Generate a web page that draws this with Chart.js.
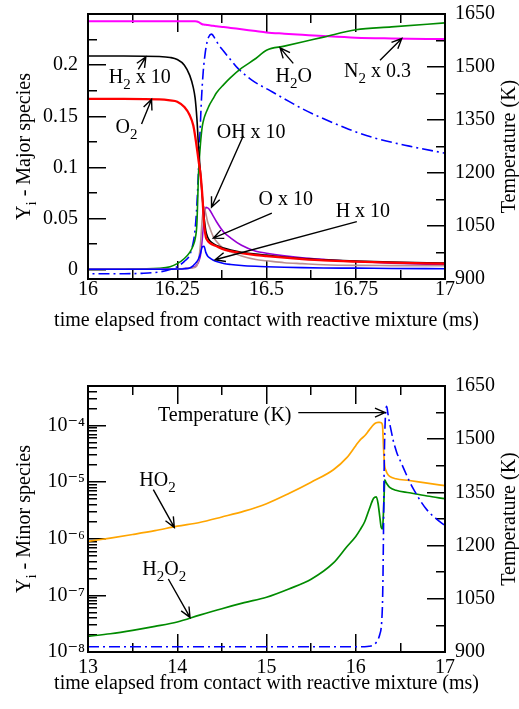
<!DOCTYPE html>
<html>
<head>
<meta charset="utf-8">
<script src="https://cdn.jsdelivr.net/npm/chart.js@4.4.1/dist/chart.umd.min.js"></script>
<style>
  html, body { margin: 0; padding: 0; background: #fff; }
  #wrap { position: relative; width: 519px; height: 709px; }
  #c1 { position: absolute; left: 0; top: 0; }
  #c2 { position: absolute; left: 0; top: 350px; }
</style>
</head>
<body>
<div id="wrap">
  <canvas id="c1" width="519" height="350"></canvas>
  <canvas id="c2" width="519" height="359"></canvas>
</div>
<script>
/**
 * top panel - major species (mass fractions), time in ms
 */
var tTop  = [16, 16.1, 16.2, 16.23, 16.25, 16.27, 16.285, 16.295, 16.3, 16.305, 16.31, 16.315, 16.32, 16.325, 16.33, 16.335, 16.34, 16.35, 16.36, 16.38, 16.4, 16.43, 16.47, 16.5, 16.55, 16.6, 16.66, 16.75, 16.85, 17];
var h2x10 = [0.209, 0.209, 0.2085, 0.2075, 0.2055, 0.2, 0.19, 0.178, 0.168, 0.148, 0.118, 0.095, 0.072, 0.052, 0.038, 0.032, 0.0288, 0.0258, 0.0238, 0.0212, 0.0192, 0.0172, 0.0153, 0.0143, 0.0125, 0.011, 0.0098, 0.0085, 0.0075, 0.0066];
var o2    = [0.167, 0.167, 0.1665, 0.1655, 0.1643, 0.159, 0.151, 0.141, 0.131, 0.119, 0.106, 0.094, 0.074, 0.046, 0.032, 0.0285, 0.0265, 0.0245, 0.023, 0.02, 0.0183, 0.0163, 0.0143, 0.0133, 0.0118, 0.0105, 0.0092, 0.008, 0.007, 0.006];
var h2o   = [0.0005, 0.0006, 0.0015, 0.003, 0.006, 0.011, 0.017, 0.024, 0.03, 0.045, 0.097, 0.123, 0.14, 0.148, 0.153, 0.157, 0.161, 0.167, 0.173, 0.181, 0.188, 0.197, 0.2065, 0.2146, 0.2186, 0.2226, 0.2274, 0.2346, 0.2374, 0.2413];
var n2x03 = [0.243, 0.243, 0.243, 0.243, 0.243, 0.243, 0.243, 0.243, 0.243, 0.2427, 0.242, 0.241, 0.24, 0.2397, 0.2394, 0.2392, 0.239, 0.2386, 0.2381, 0.2373, 0.2364, 0.2351, 0.2333, 0.232, 0.2308, 0.2297, 0.2284, 0.2268, 0.2261, 0.2255];
var ohx10 = [0.0005, 0.0005, 0.0006, 0.0007, 0.0009, 0.0012, 0.0018, 0.0025, 0.003, 0.005, 0.008, 0.014, 0.03, 0.05, 0.061, 0.0605, 0.059, 0.053, 0.047, 0.037, 0.031, 0.024, 0.0182, 0.0162, 0.0137, 0.0118, 0.0102, 0.0081, 0.0065, 0.0049];
var ox10  = [0.0005, 0.0005, 0.0006, 0.0007, 0.0009, 0.0012, 0.0016, 0.002, 0.0025, 0.004, 0.01, 0.025, 0.05, 0.0615, 0.055, 0.047, 0.042, 0.033, 0.0276, 0.0208, 0.0175, 0.0135, 0.01, 0.0088, 0.0069, 0.006, 0.005, 0.0043, 0.0041, 0.0039];
var hx10  = [0.0005, 0.0005, 0.0005, 0.0006, 0.0007, 0.001, 0.0018, 0.004, 0.006, 0.008, 0.011, 0.016, 0.0225, 0.023, 0.017, 0.0135, 0.0118, 0.0095, 0.0081, 0.0062, 0.0052, 0.0042, 0.0034, 0.003, 0.0025, 0.0021, 0.0018, 0.0016, 0.0013, 0.001];

// temperature (K), shared by both panels
var tempTime = [13, 14, 15, 15.5, 16, 16.1, 16.15, 16.2, 16.23, 16.25, 16.27, 16.285, 16.295, 16.3, 16.305, 16.309, 16.314, 16.318, 16.323, 16.328, 16.333, 16.338, 16.346, 16.356, 16.366, 16.379, 16.4, 16.42, 16.44, 16.46, 16.51, 16.55, 16.6, 16.65, 16.73, 16.8, 16.9, 17];
var tempK    = [915, 915, 915, 915, 915, 915, 916, 920, 927, 935, 950, 968, 1005, 1040, 1110, 1195, 1320, 1412, 1490, 1537, 1568, 1585, 1593, 1580, 1563, 1546, 1520, 1496, 1478, 1462, 1433, 1410, 1382, 1358, 1324, 1300, 1276, 1256];

/**
 * bottom panel - minor species
 */
var tBot = [13, 13.25, 13.5, 13.75, 14, 14.25, 14.5, 14.75, 15, 15.25, 15.5, 15.75, 15.9, 16, 16.05, 16.1, 16.15, 16.2, 16.23, 16.25, 16.27, 16.285, 16.3, 16.31, 16.318, 16.325, 16.335, 16.35, 16.38, 16.45, 16.6, 16.8, 17];
var ho2  = [9.0e-7, 1.03e-6, 1.19e-6, 1.39e-6, 1.67e-6, 1.94e-6, 2.43e-6, 3.08e-6, 4.17e-6, 6.31e-6, 1.0e-5, 1.66e-5, 2.71e-5, 4.42e-5, 5.6e-5, 6.6e-5, 8.3e-5, 1.04e-4, 1.12e-4, 1.14e-4, 1.14e-4, 1.12e-4, 1.0e-4, 4.5e-5, 2.5e-5, 1.9e-5, 1.65e-5, 1.45e-5, 1.27e-5, 1.15e-5, 1.07e-5, 9.6e-6, 8.7e-6];
var h2o2 = [1.89e-8, 2.1e-8, 2.41e-8, 2.83e-8, 3.39e-8, 4.47e-8, 5.82e-8, 7.43e-8, 9.29e-8, 1.3e-7, 1.93e-7, 3.75e-7, 7.24e-7, 1.1e-6, 1.45e-6, 2.0e-6, 3.3e-6, 5.2e-6, 5.5e-6, 4.2e-6, 2.4e-6, 1.6e-6, 1.5e-6, 2.8e-6, 6e-6, 1.1e-5, 1.02e-5, 9.3e-6, 8.1e-6, 7.2e-6, 6.5e-6, 5.7e-6, 5.1e-6];

// tick values
var xMajorTop = [16, 16.25, 16.5, 16.75, 17];
var xMinorTop = [16.125, 16.375, 16.625, 16.875];
var yMajorTop = [0, 0.05, 0.1, 0.15, 0.2];
var yMinorTop = [0.025, 0.075, 0.125, 0.175, 0.225];
var xMajorBot = [13, 14, 15, 16, 17];
var xMinorBot = [13.5, 14.5, 15.5, 16.5];
var yMajorBot = [1e-8, 1e-7, 1e-6, 1e-5, 1e-4];
var tempMajor = [900, 1050, 1200, 1350, 1500, 1650];
var tempMinor = [975, 1125, 1275, 1425, 1575];

var FAMILY = "'Liberation Serif', 'DejaVu Serif', serif";
var tickFont = { family: FAMILY, size: 20 };
var xTitle = 'time elapsed from contact with reactive mixture (ms)';

Chart.defaults.color = '#000';

function pts(xs, ys) {
    return xs.map(function (x, i) { return { x: x, y: ys[i] }; });
}

// minor ticks of the log axis: 2..9 x 10^n up to the axis max
function logMinors(lo, hi, max) {
    var out = [];
    for (var e = lo; e <= hi; e++)
        for (var m = 2; m <= 9; m++)
            if (m * Math.pow(10, e) <= max) out.push(m * Math.pow(10, e));
    return out;
}

function supNum(v) {
    var sup = { '-': '\u207B', '0': '\u2070', '1': '\u00B9', '2': '\u00B2', '3': '\u00B3', '4': '\u2074', '5': '\u2075', '6': '\u2076', '7': '\u2077', '8': '\u2078', '9': '\u2079' };
    var e = String(Math.round(Math.log10(v)));
    return '10' + e.split('').map(function (c) { return sup[c]; }).join('');
}

/**
 * text with subscripts: "H_2O" -> H, 2 (lowered), O
 */
function drawRich(ctx, str, x, y) {
    var parts = [], buf = '';
    for (var i = 0; i < str.length; i++) {
        if (str[i] === '_') {
            if (buf) parts.push({ t: buf });
            buf = '';
            parts.push({ t: str[i + 1], sub: true });
            i++;
        } else buf += str[i];
    }
    if (buf) parts.push({ t: buf });
    var w = 0;
    parts.forEach(function (p) {
        ctx.font = (p.sub ? '15px ' : '20px ') + FAMILY;
        p.w = ctx.measureText(p.t).width;
        w += p.w;
    });
    var cx = x - w / 2;
    ctx.textAlign = 'left';
    ctx.textBaseline = 'alphabetic';
    parts.forEach(function (p) {
        ctx.font = (p.sub ? '15px ' : '20px ') + FAMILY;
        ctx.fillText(p.t, cx, y + (p.sub ? 6 : 0));
        cx += p.w;
    });
}

/**
 * labels + arrows, frame, axis titles
 */
function makeDeco(cfg) {
    return {
        id: 'deco',
        afterDraw: function (chart) {
            var ctx = chart.ctx, s = chart.scales, a = chart.chartArea;
            ctx.save();
            ctx.fillStyle = '#000';
            ctx.strokeStyle = '#000';
            ctx.lineWidth = 1.4;

            cfg.notes.forEach(function (n) {
                var ys = s[n.axis || 'y'];
                drawRich(ctx, n.text, s.x.getPixelForValue(n.x), ys.getPixelForValue(n.y));
                var x1 = s.x.getPixelForValue(n.from[0]), y1 = ys.getPixelForValue(n.from[1]);
                var x2 = s.x.getPixelForValue(n.to[0]), y2 = ys.getPixelForValue(n.to[1]);
                var ang = Math.atan2(y2 - y1, x2 - x1), L = 11, sp = 0.42;
                ctx.beginPath();
                ctx.moveTo(x1, y1); ctx.lineTo(x2, y2);
                ctx.moveTo(x2 - L * Math.cos(ang - sp), y2 - L * Math.sin(ang - sp));
                ctx.lineTo(x2, y2);
                ctx.lineTo(x2 - L * Math.cos(ang + sp), y2 - L * Math.sin(ang + sp));
                ctx.stroke();
            });

            ctx.lineWidth = 2;
            ctx.strokeRect(a.left, a.top, a.right - a.left, a.bottom - a.top);

            drawRich(ctx, xTitle, (a.left + a.right) / 2, a.bottom + cfg.titleDrop);
            var mid = (a.top + a.bottom) / 2;
            ctx.save();
            ctx.translate(29.5, mid); ctx.rotate(-Math.PI / 2);
            drawRich(ctx, cfg.yTitle, 0, 0);
            ctx.restore();
            ctx.save();
            ctx.translate(515, mid); ctx.rotate(-Math.PI / 2);
            drawRich(ctx, 'Temperature (K)', 0, 0);
            ctx.restore();
            ctx.restore();
        }
    };
}

function line(label, xs, ys, color, width, axis, dash) {
    return {
        label: label,
        data: pts(xs, ys),
        yAxisID: axis || 'y',
        borderColor: color,
        backgroundColor: color,
        borderWidth: width,
        borderDash: dash || [],
        pointRadius: 0,
        fill: false,
        cubicInterpolationMode: 'monotone'
    };
}

function ticksFrom(vals) {
    return function (scale) { scale.ticks = vals.map(function (v) { return { value: v }; }); };
}
// fixed box sizes so the plot area lands where the original one is
function fitW(w) {
    return function (s) { s.width = w; s.paddingTop = 0; s.paddingBottom = 0; };
}
function fitH(h) {
    return function (s) { s.height = h; s.paddingLeft = 0; s.paddingRight = 0; };
}
// negative tick length -> the library draws the tick marks inwards
function tickGrid(len) {
    return { display: true, drawOnChartArea: false, drawTicks: true, tickLength: -len, color: '#000', lineWidth: 1.5 };
}

// labelled axis
function mainAxis(pos, type, min, max, vals, size, pad, fmt) {
    var horiz = pos === 'top' || pos === 'bottom';
    return {
        type: type, position: pos, min: min, max: max, weight: 1,
        afterBuildTicks: ticksFrom(vals),
        afterFit: horiz ? fitH(size) : fitW(size),
        grid: tickGrid(18),
        border: { display: false },
        ticks: { font: tickFont, padding: pad + 18, maxRotation: 0, autoSkip: false, callback: fmt || function (v) { return String(v); } }
    };
}
// zero-size axis that only adds tick marks (minor ticks, top edge)
function tickAxis(pos, type, min, max, vals, len) {
    var horiz = pos === 'top' || pos === 'bottom';
    return {
        type: type, position: pos, min: min, max: max, weight: 0,
        afterBuildTicks: ticksFrom(vals),
        afterFit: horiz ? fitH(0) : fitW(0),
        grid: tickGrid(len),
        border: { display: false },
        ticks: { font: tickFont, padding: 0, maxRotation: 0, autoSkip: false, callback: function () { return ''; } }
    };
}

var tempDash = [11, 4, 2, 4];

/**
 * top chart
 */
new Chart(document.getElementById('c1'), {
    type: 'line',
    data: {
        datasets: [
            line('O2', tTop, o2, '#ff0000', 2.3),
            line('H2 x 10', tTop, h2x10, '#000000', 1.6),
            line('H x 10', tTop, hx10, '#0000ff', 1.6),
            line('O x 10', tTop, ox10, '#bc8f8f', 1.6),
            line('OH x 10', tTop, ohx10, '#9400d3', 1.6),
            line('H2O', tTop, h2o, '#008b00', 1.6),
            line('N2 x 0.3', tTop, n2x03, '#ff00ff', 2),
            line('Temperature', tempTime, tempK, '#0000ff', 1.6, 'y2', tempDash)
        ]
    },
    options: {
        responsive: false,
        animation: false,
        devicePixelRatio: 1,
        layout: { padding: { top: 14, left: 0, right: 0, bottom: 0 } },
        plugins: { legend: { display: false }, tooltip: { enabled: false } },
        scales: {
            x:   mainAxis('bottom', 'linear', 16, 17, xMajorTop, 71, -1),
            y:   mainAxis('left', 'linear', -0.009, 0.25, yMajorTop, 88, 10),
            y2:  mainAxis('right', 'linear', 900, 1650, tempMajor, 74, 10),
            xm:  tickAxis('bottom', 'linear', 16, 17, xMinorTop, 9),
            xt:  tickAxis('top', 'linear', 16, 17, xMajorTop, 18),
            xtm: tickAxis('top', 'linear', 16, 17, xMinorTop, 9),
            ym:  tickAxis('left', 'linear', -0.009, 0.25, yMinorTop, 9),
            y2m: tickAxis('right', 'linear', 900, 1650, tempMinor, 9)
        }
    },
    plugins: [
        makeDeco({
            yTitle: 'Y_i - Major species', titleDrop: 47,
            notes: [
                { text: 'H_2 x 10', x: 16.145, y: 0.1821, from: [16.141, 0.1958], to: [16.162, 0.2081] },
                { text: 'O_2', x: 16.108, y: 0.1334, from: [16.150, 0.1424], to: [16.178, 0.1665] },
                { text: 'OH x 10', x: 16.457, y: 0.1285, from: [16.435, 0.131], to: [16.346, 0.0612] },
                { text: 'O x 10', x: 16.554, y: 0.0634, from: [16.515, 0.0553], to: [16.351, 0.0309] },
                { text: 'H x 10', x: 16.770, y: 0.052, from: [16.753, 0.0471], to: [16.356, 0.0098] },
                { text: 'H_2O', x: 16.576, y: 0.1837, from: [16.575, 0.2017], to: [16.538, 0.2169] },
                { text: 'N_2 x 0.3', x: 16.811, y: 0.1886, from: [16.818, 0.2049], to: [16.879, 0.226] }
            ]
        })
    ]
});

/**
 * bottom chart
 */
new Chart(document.getElementById('c2'), {
    type: 'line',
    data: {
        datasets: [
            line('Temperature', tempTime, tempK, '#0000ff', 1.6, 'y2', tempDash),
            line('HO2', tBot, ho2, '#ffa500', 1.7),
            line('H2O2', tBot, h2o2, '#008b00', 1.7)
        ]
    },
    options: {
        responsive: false,
        animation: false,
        devicePixelRatio: 1,
        layout: { padding: { top: 36, left: 0, right: 0, bottom: 0 } },
        plugins: { legend: { display: false }, tooltip: { enabled: false } },
        scales: {
            x:   mainAxis('bottom', 'linear', 13, 17, xMajorBot, 57, 3.5),
            y:   mainAxis('left', 'logarithmic', 1e-8, 5e-4, yMajorBot, 88, 3, supNum),
            y2:  mainAxis('right', 'linear', 900, 1650, tempMajor, 74, 10),
            xm:  tickAxis('bottom', 'linear', 13, 17, xMinorBot, 9),
            xt:  tickAxis('top', 'linear', 13, 17, xMajorBot, 18),
            xtm: tickAxis('top', 'linear', 13, 17, xMinorBot, 9),
            ym:  tickAxis('left', 'logarithmic', 1e-8, 5e-4, logMinors(-8, -4, 5e-4), 9),
            y2m: tickAxis('right', 'linear', 900, 1650, tempMinor, 9)
        }
    },
    plugins: [
        makeDeco({
            yTitle: 'Y_i - Minor species', titleDrop: 37,
            notes: [
                { text: 'Temperature (K)', axis: 'y2', x: 14.532, y: 1550, from: [15.356, 1575], to: [16.328, 1575] },
                { text: 'HO_2', x: 13.779, y: 8.67e-6, from: [13.732, 7.38e-6], to: [13.967, 1.59e-6] },
                { text: 'H_2O_2', x: 13.854, y: 2.32e-7, from: [13.9, 1.95e-7], to: [14.143, 4.08e-8] }
            ]
        })
    ]
});
</script>
</body>
</html>
